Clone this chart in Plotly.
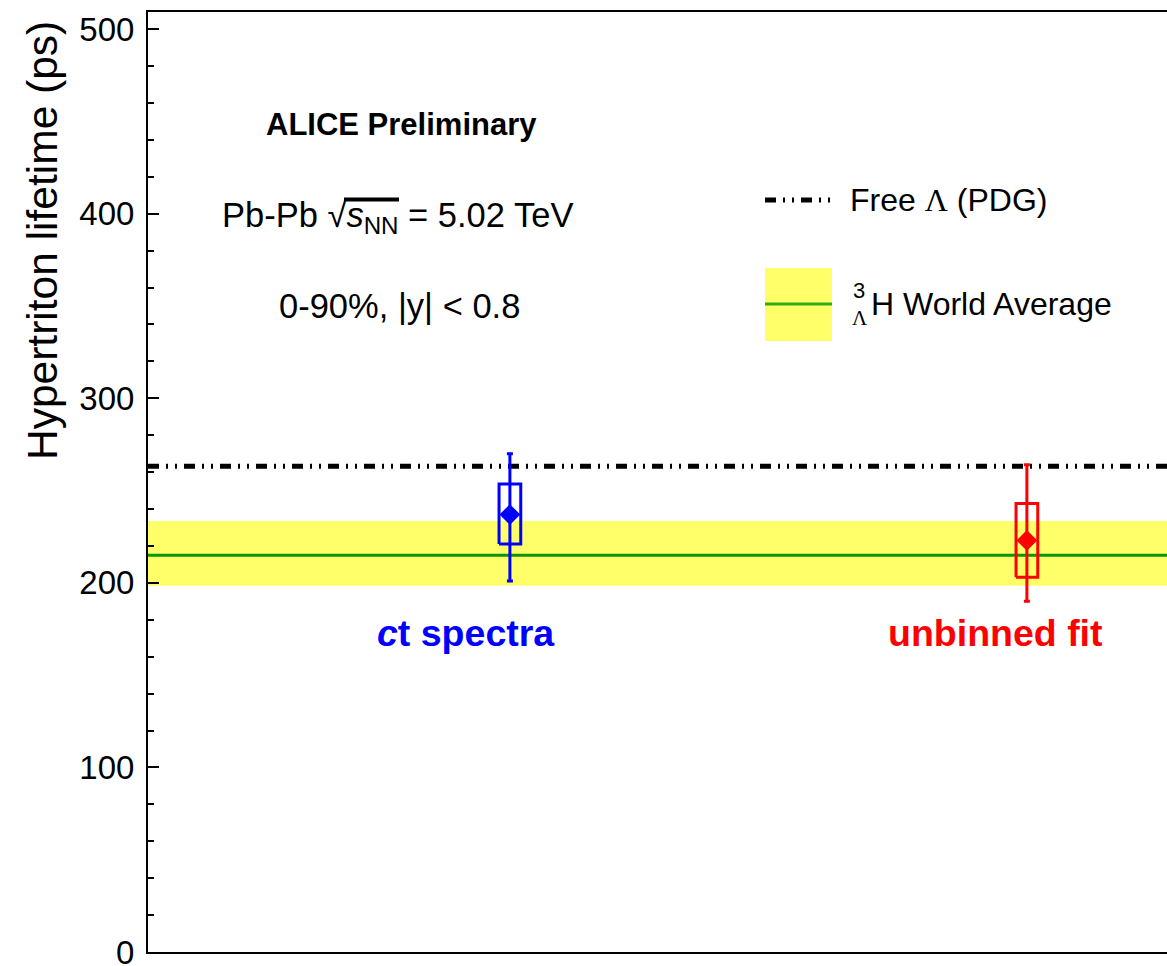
import plotly.graph_objects as go

# Measurements of the hypertriton lifetime (ps)
methods = ["ct spectra", "unbinned fit"]
method_pos = [1.0, 2.0]
method_colors = ["#0000ff", "#ff0000"]
lifetime = [237.0, 223.0]
stat_up = [33.0, 41.0]
stat_down = [36.0, 33.0]
syst_up = [16.5, 20.0]
syst_down = [16.0, 20.0]

# Reference values
free_lambda = 263.2
world_avg = 215.0
world_avg_up = 18.5
world_avg_down = 16.5

y_ticks = [0, 100, 200, 300, 400, 500]

FONT = "Liberation Sans, Arial, Helvetica, sans-serif"
SERIF = "Liberation Serif, Times New Roman, serif"
BAND = "#ffff6a"

# canvas geometry (pixels) of the plotting frame
W, H = 1167, 966
L, R, T, B = 148, 1167, 12, 952


def xp(x):
    return (x - L) / (R - L)


def yp(y):
    return (B - y) / (B - T)


fig = go.Figure()

DASH = "11px,7px,2px,7px,2px,7px"
shapes = [
    # world-average band and central value
    dict(type="rect", xref="paper", yref="y", x0=0, x1=1,
         y0=world_avg - world_avg_down, y1=world_avg + world_avg_up,
         fillcolor=BAND, line=dict(width=0), layer="below"),
    dict(type="line", xref="paper", yref="y", x0=0, x1=1,
         y0=world_avg, y1=world_avg,
         line=dict(color="#0a960a", width=3), layer="below"),
    # free Lambda lifetime
    dict(type="line", xref="paper", yref="y", x0=0, x1=1,
         y0=free_lambda, y1=free_lambda,
         line=dict(color="black", width=5, dash=DASH), layer="below"),
    # legend samples
    dict(type="line", xref="paper", yref="paper", x0=xp(765), x1=xp(831),
         y0=yp(200), y1=yp(200),
         line=dict(color="black", width=5, dash=DASH)),
    dict(type="rect", xref="paper", yref="paper", x0=xp(765), x1=xp(832),
         y0=yp(341), y1=yp(268), fillcolor=BAND, line=dict(width=0)),
    dict(type="line", xref="paper", yref="paper", x0=xp(765), x1=xp(832),
         y0=yp(304), y1=yp(304), line=dict(color="#33aa11", width=3)),
    # bar of the square-root sign
    dict(type="line", xref="paper", yref="paper", x0=xp(344), x1=xp(399),
         y0=yp(199.5), y1=yp(199.5), line=dict(color="black", width=4)),
]

# systematic-uncertainty boxes
box_half = 0.021
for xc, val, up, dn, col in zip(method_pos, lifetime, syst_up, syst_down, method_colors):
    fig.add_trace(go.Scatter(
        x=[xc - box_half, xc + box_half, xc + box_half, xc - box_half, xc - box_half],
        y=[val - dn, val - dn, val + up, val + up, val - dn],
        mode="lines", line=dict(color=col, width=3), showlegend=False,
        hoverinfo="skip"))

# central values with statistical errors
for xc, val, up, dn, col in zip(method_pos, lifetime, stat_up, stat_down, method_colors):
    fig.add_trace(go.Scatter(
        x=[xc], y=[val], mode="markers",
        marker=dict(symbol="diamond", size=16, color=col),
        error_y=dict(type="data", symmetric=False, array=[up], arrayminus=[dn],
                     color=col, thickness=3, width=3),
        showlegend=False))

annotations = [
    dict(text="<b>ALICE Preliminary</b>", x=xp(401), y=yp(125), size=31),
    dict(text="Pb-Pb √<i>s</i><sub>NN</sub> = 5.02 TeV",
         x=xp(397), y=yp(217), size=34.5),
    dict(text="0-90%, |y| < 0.8", x=xp(399), y=yp(306), size=34.5),
    dict(text="<b><i>c</i>t spectra</b>", x=xp(466), y=yp(633), size=37.5, color=method_colors[0]),
    dict(text="<b>unbinned fit</b>", x=xp(995), y=yp(633), size=37.5, color=method_colors[1]),
    dict(text=f"Free <span style='font-family:{SERIF}'>Λ</span> (PDG)", x=xp(848), y=yp(200),
         size=32, xanchor="left"),
    dict(text="H World Average", x=xp(869), y=yp(304), size=32, xanchor="left"),
    dict(text="3", x=xp(859), y=yp(290), size=22),
    dict(text=f"<span style='font-family:{SERIF}'>Λ</span>", x=xp(860), y=yp(318), size=21),
]

ann_objs = []
for a in annotations:
    ann_objs.append(dict(
        text=a["text"], x=a["x"], y=a["y"], xref="paper", yref="paper",
        xanchor=a.get("xanchor", "center"), yanchor="middle", showarrow=False,
        font=dict(family=FONT, size=a["size"], color=a.get("color", "black"))))

# y-axis title, aligned towards the top of the axis
ann_objs.append(dict(
    text="Hypertriton lifetime (ps)", x=xp(42), y=yp(241), xref="paper", yref="paper",
    xanchor="center", yanchor="middle", textangle=-90, showarrow=False,
    font=dict(family=FONT, size=42.5, color="black")))

fig.update_layout(
    width=W, height=H,
    margin=dict(l=L, r=W - R, t=T, b=H - B, pad=0, autoexpand=False),
    plot_bgcolor="white", paper_bgcolor="white",
    font=dict(family=FONT, color="black"),
    shapes=shapes, annotations=ann_objs,
    showlegend=False,
    xaxis=dict(range=[0.3, 2.271], showgrid=False, zeroline=False,
               showticklabels=False, ticks="", automargin=False,
               showline=True, linecolor="black", linewidth=2, mirror=True),
    yaxis=dict(range=[0, 509.3], showgrid=False, zeroline=False, automargin=False,
               tickvals=y_ticks, ticktext=[str(v) for v in y_ticks],
               ticks="inside", ticklen=11, tickwidth=2, tickcolor="black",
               tickfont=dict(family=FONT, size=33, color="black"),
               ticklabelstandoff=5, ticklabeloverflow="allow",
               minor=dict(dtick=20, ticks="inside", ticklen=6, tickwidth=2, tickcolor="black"),
               showline=True, linecolor="black", linewidth=2),
)

fig.write_html("out.html")
